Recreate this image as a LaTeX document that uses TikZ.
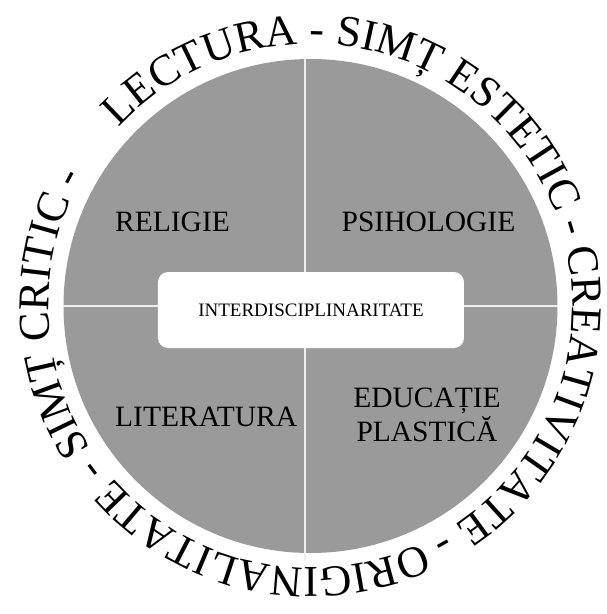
\documentclass[tikz,border=0pt]{standalone}
\usepackage{fontspec}
\setmainfont{Liberation Serif}
\usetikzlibrary{decorations.text}
\definecolor{discgray}{HTML}{9A9A9A}
\definecolor{splitline}{HTML}{EEEEEE}
\newcommand\ringfont{\fontsize{44}{44}\selectfont}
\newcommand\subjfont{\fontsize{29.5}{34}\selectfont}

\begin{document}
\begin{tikzpicture}[x=1pt, y=1pt,
    subject/.style={inner sep=0pt, font=\subjfont, align=center},
    split/.style={draw=splitline, line width=1.4pt},
    centrebox/.style={fill=white, rounded corners=10pt, minimum width=306pt,
      minimum height=76pt, inner sep=0pt, font=\fontsize{19}{19}\selectfont}]
  \useasboundingbox (-310.5,-308) rectangle (295.5,306);
  \node[circle, fill=discgray, minimum size=494pt, inner sep=0pt] (disc) at (0,0) {};
  \coordinate (vtop) at (-5.5,247);
  \coordinate (vbot) at (-5.5,-255);
  \draw[split] (vtop) -- (vbot);
  \draw[split] (disc.west) -- (disc.east);
  \node[centrebox] (inter) at (0.5,-4) {INTERDISCIPLINARITATE};
  \node[subject, anchor=west] (religie) at (-195.5,84) {RELIGIE};
  \node[subject] (psiho) at (118,84) {PSIHOLOGIE};
  \node[subject, anchor=west] (lit) at (-195.5,-111) {LITERATURA};
  \node[subject] (edu) at (116.5,-109) {EDUCAȚIE\\PLASTICĂ};
  \path[decorate, decoration={text along path, text align=left,
      text={|\ringfont|LECTURA - SIMȚ ESTETIC - CREATIVITATE - ORIGINALITATE - SIMȚ CRITIC - }}]
    (137:262) arc[start angle=137, end angle=-223, radius=262];
\end{tikzpicture}
\end{document}
